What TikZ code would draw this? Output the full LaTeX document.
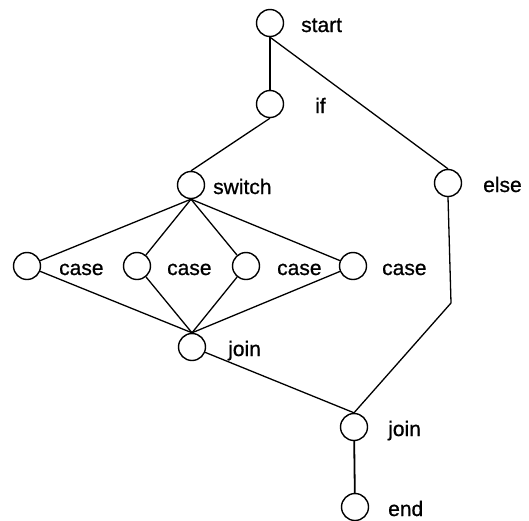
\documentclass[tikz,border=0pt]{standalone}
\usepackage{fontspec}
\setmainfont{Liberation Sans}
\newfontfamily\lblfont{Liberation Sans}[FakeBold=0.8]
\begin{document}
\begin{tikzpicture}[x=1pt,y=-1pt,
  vert/.style={draw=black, circle, line width=1.4pt, minimum size=27pt, inner sep=0pt},
  lbl/.style={anchor=base west, inner sep=0pt, font=\lblfont\fontsize{21}{24}\selectfont},
  edge/.style={line width=1.3pt},
  thick edge/.style={line width=1.8pt}]
\useasboundingbox (0,0) rectangle (529,520);
% vertices
\node[vert] (start) at (270,23) {};
\node[vert] (if) at (270,104) {};
\node[vert] (switch) at (191,185) {};
\node[vert] (else) at (448,183) {};
\node[vert] (c1) at (27,266) {};
\node[vert] (c2) at (137,266) {};
\node[vert] (c3) at (246,266) {};
\node[vert] (c4) at (353,266) {};
\node[vert] (j1) at (192,347) {};
\node[vert] (j2) at (354,427) {};
\node[vert] (end) at (355,507) {};
% labels
\node[lbl] (lstart) at (301,32) {start};
\node[lbl] (lif) at (315,113) {if};
\node[lbl] (lswitch) at (213,194) {switch};
\node[lbl] (lelse) at (483,192) {else};
\node[lbl] (lc1) at (59,275) {case};
\node[lbl] (lc2) at (167,275) {case};
\node[lbl] (lc3) at (277,275) {case};
\node[lbl] (lc4) at (382,275) {case};
\node[lbl] (lj1) at (228,356) {join};
\node[lbl] (lj2) at (388,436) {join};
\node[lbl] (lend) at (388,516) {end};
% edges
\coordinate (bend) at (451,303);
\draw[edge] (start) -- (if);
\draw[edge] (start.south) -- (else.north);
\draw[edge] (if.south) -- (switch.north);
\foreach \c in {c1,c2,c3,c4} {
  \draw[edge] (switch.south) -- (\c);
  \draw[edge] (\c) -- (j1.north);
}
\draw[edge] (j1) -- (j2.north);
\draw[edge] (else.south) -- (bend) -- (j2.north);
\draw[thick edge] (j2) -- (end);
\end{tikzpicture}
\end{document}
